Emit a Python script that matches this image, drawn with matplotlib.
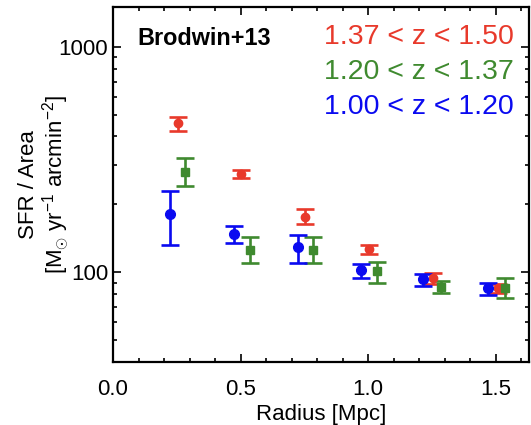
import matplotlib
matplotlib.use('Agg')
import matplotlib.pyplot as plt
from matplotlib.ticker import LogLocator, FixedLocator, MultipleLocator, NullFormatter, FixedFormatter

plt.rcParams['font.family'] = ['Liberation Sans', 'DejaVu Sans']
plt.rcParams['mathtext.fontset'] = 'custom'
plt.rcParams['mathtext.rm'] = 'Liberation Sans'
plt.rcParams['mathtext.it'] = 'Liberation Sans:italic'

# data
r_red = [0.254, 0.50, 0.754, 1.004, 1.254, 1.508]
sfr_red = [459, 273, 176, 126.5, 94, 85]
lo_red = [35, 11, 13, 6.5, 5, 4]
hi_red = [29, 11, 15, 5.5, 5, 4]

r_green = [0.281, 0.535, 0.785, 1.035, 1.285, 1.535]
sfr_green = [278, 126, 126, 101, 85.8, 85]
lo_green = [37, 16, 16, 11, 5, 8.5]
hi_green = [43, 17, 17, 10, 6, 9]

r_blue = [0.223, 0.473, 0.723, 0.973, 1.215, 1.469]
sfr_blue = [181, 147.5, 129, 102, 93, 85]
lo_blue = [49, 13, 19, 8, 6.3, 6]
hi_blue = [48, 13, 17, 6.6, 5, 4.3]

labels = ['1.37 < z < 1.50', '1.20 < z < 1.37', '1.00 < z < 1.20']
colors = ['#e8392b', '#3f8a2f', '#0a0af0']

fig = plt.figure(figsize=(5.31, 4.25), dpi=100)
ax = fig.add_axes([113 / 531, 63 / 425, 416 / 531, 355 / 425])

kw = dict(ls='none', elinewidth=1.9, capsize=6.5, capthick=1.9)
ax.errorbar(r_red, sfr_red, yerr=[lo_red, hi_red], fmt='o', color=colors[0], ms=6, **kw)
ax.errorbar(r_green, sfr_green, yerr=[lo_green, hi_green], fmt='s', color=colors[1], ms=5.5, **kw)
ax.errorbar(r_blue, sfr_blue, yerr=[lo_blue, hi_blue], fmt='o', color=colors[2], ms=7, **kw)

ax.set_yscale('log')
ax.set_xlim(0, 1.63)
ax.set_ylim(40, 1500)

ax.xaxis.set_minor_locator(MultipleLocator(0.1))
ax.xaxis.set_major_locator(FixedLocator([0.0, 0.5, 1.0, 1.5]))
ax.xaxis.set_major_formatter(FixedFormatter(['0.0', '0.5', '1.0', '1.5']))
ax.yaxis.set_major_locator(FixedLocator([100, 1000]))
ax.yaxis.set_major_formatter(FixedFormatter(['100', '1000']))
ax.yaxis.set_minor_locator(LogLocator(base=10, subs=range(2, 10)))
ax.yaxis.set_minor_formatter(NullFormatter())

ax.tick_params(which='both', direction='in', top=True, right=True, width=1.2, labelsize=16)
ax.tick_params(which='major', length=6)
ax.tick_params(which='minor', length=3)
ax.tick_params(axis='x', pad=12)
for s in ax.spines.values():
    s.set_linewidth(1.6)

ax.set_xlabel('Radius [Mpc]', fontsize=16, labelpad=3)
ax.set_ylabel('SFR / Area\n[M$_{\\odot}$ yr$^{-1}$ arcmin$^{-2}$]', fontsize=16, labelpad=-10,
              linespacing=1.1)

ax.text(0.058, 0.91, 'Brodwin+13', transform=ax.transAxes, fontsize=16.8,
        fontweight='bold', va='center', ha='left')
for i, (lab, c) in enumerate(zip(labels, colors)):
    ax.text(0.963, 0.915 - i * 0.098, lab, transform=ax.transAxes, fontsize=20.5,
            color=c, ha='right', va='center')

fig.savefig('out.png', dpi=100)
